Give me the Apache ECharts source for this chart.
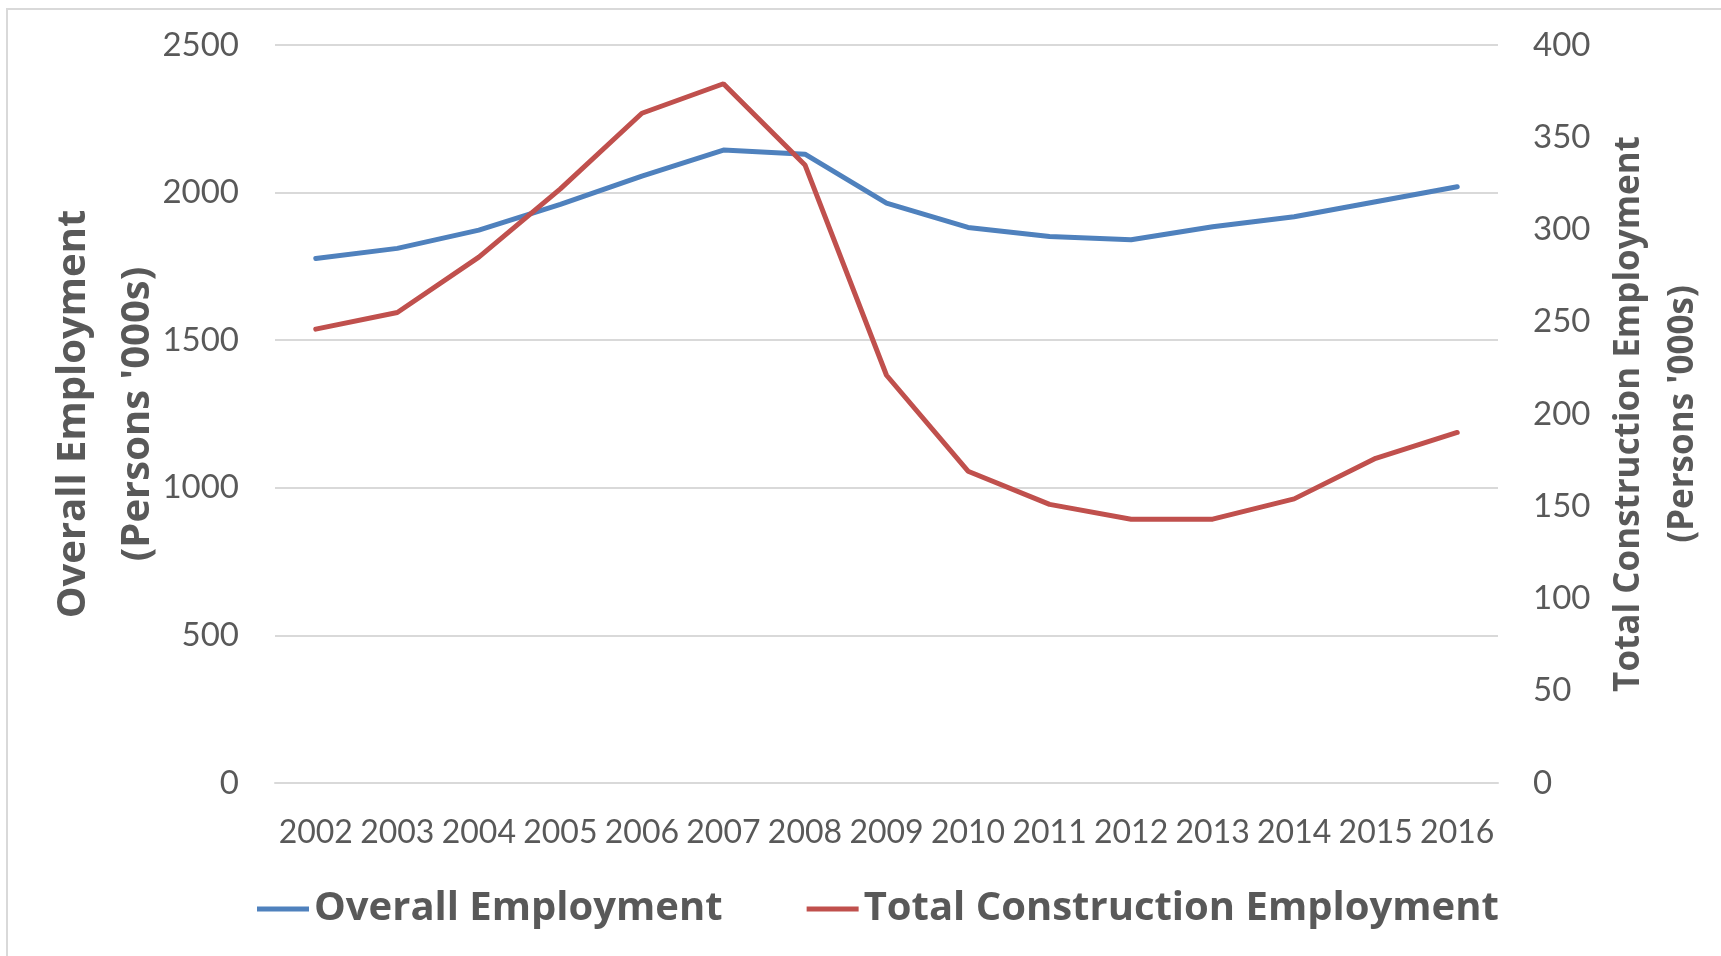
<!DOCTYPE html>
<html>
<head>
<meta charset="utf-8">
<script src="https://cdn.jsdelivr.net/npm/echarts@6/dist/echarts.min.js"></script>
<style>
  html, body { margin: 0; padding: 0; background: #fff; }
  #drew { width: 1721px; height: 956px; }
</style>
</head>
<body>
<div id="drew"></div>
<script>
   var years = ['2002', '2003', '2004', '2005', '2006', '2007', '2008', '2009',
       '2010', '2011', '2012', '2013', '2014', '2015', '2016'];
   var overallEmployment = [1777, 1811, 1873, 1960, 2056, 2144, 2130, 1964,
       1882, 1851, 1840, 1884, 1918, 1969, 2020];
   var constructionEmployment = [246, 255, 285, 322, 363, 379, 335, 221,
       169, 151, 143, 143, 154, 176, 190];
   var leftTicks = { min: 0, max: 2500, interval: 500 };
   var rightTicks = { min: 0, max: 400, interval: 50 };

   var grey = '#595959';
   var tickFont = 'Lato';
   var titleFont = '"Open Sans"';

   var myChart = echarts.init(document.getElementById('drew'));
   var option = {
       backgroundColor: '#fff',
       animation: false,
       graphic: [{
           type: 'rect',
           shape: { x: 7, y: 9, width: 1800, height: 1000 },
           style: { fill: 'none', stroke: '#d9d9d9', lineWidth: 2 },
           silent: true
       }],
       grid: {
           left: 275,
           right: 223,
           top: 45,
           bottom: 173
       },
       legend: {
           left: 252,
           top: 884,
           itemWidth: 52,
           itemHeight: 5,
           itemGap: 84,
           icon: 'rect',
           textStyle: {
               color: grey,
               fontFamily: titleFont,
               fontWeight: 'bold',
               fontSize: 40,
               padding: [0, 0, 0, 0]
           },
           data: ['Overall Employment', 'Total Construction Employment']
       },
       xAxis: {
           type: 'category',
           data: years,
           boundaryGap: true,
           axisLine: { show: true, lineStyle: { color: '#d9d9d9', width: 2 } },
           axisTick: { show: false },
           axisLabel: {
               color: grey,
               fontFamily: tickFont,
               fontSize: 32,
               margin: 34,
               interval: 0
           }
       },
       yAxis: [{
           type: 'value',
           position: 'left',
           min: leftTicks.min,
           max: leftTicks.max,
           interval: leftTicks.interval,
           name: "Overall Employment\n(Persons '000s)",
           nameLocation: 'middle',
           nameRotate: 90,
           nameGap: 105,
           nameMoveOverlap: false,
           nameTextStyle: {
               color: grey,
               fontFamily: titleFont,
               fontWeight: 'bold',
               fontSize: 40,
               lineHeight: 64
           },
           axisLine: { show: false },
           axisTick: { show: false },
           axisLabel: {
               color: grey,
               fontFamily: tickFont,
               fontSize: 33,
               margin: 36,
               formatter: function (v) { return String(v); }
           },
           splitLine: { show: true, lineStyle: { color: '#d9d9d9', width: 2 } }
       }, {
           type: 'value',
           position: 'right',
           min: rightTicks.min,
           max: rightTicks.max,
           interval: rightTicks.interval,
           name: "Total Construction Employment\n(Persons '000s)",
           nameLocation: 'middle',
           nameRotate: 90,
           nameGap: 104,
           nameMoveOverlap: false,
           nameTextStyle: {
               color: grey,
               fontFamily: titleFont,
               fontWeight: 'bold',
               fontSize: 35,
               lineHeight: 54
           },
           axisLine: { show: false },
           axisTick: { show: false },
           axisLabel: {
               color: grey,
               fontFamily: tickFont,
               fontSize: 33,
               margin: 35
           },
           splitLine: { show: false }
       }],
       series: [{
           name: 'Overall Employment',
           type: 'line',
           yAxisIndex: 0,
           data: overallEmployment,
           symbol: 'none',
           color: '#4f81bd',
           lineStyle: { width: 5, color: '#4f81bd', cap: 'round' }
       }, {
           name: 'Total Construction Employment',
           type: 'line',
           yAxisIndex: 1,
           data: constructionEmployment,
           symbol: 'none',
           color: '#c0504d',
           lineStyle: { width: 5, color: '#c0504d', cap: 'round' }
       }]
   };
   myChart.setOption(option);
</script>
</body>
</html>
